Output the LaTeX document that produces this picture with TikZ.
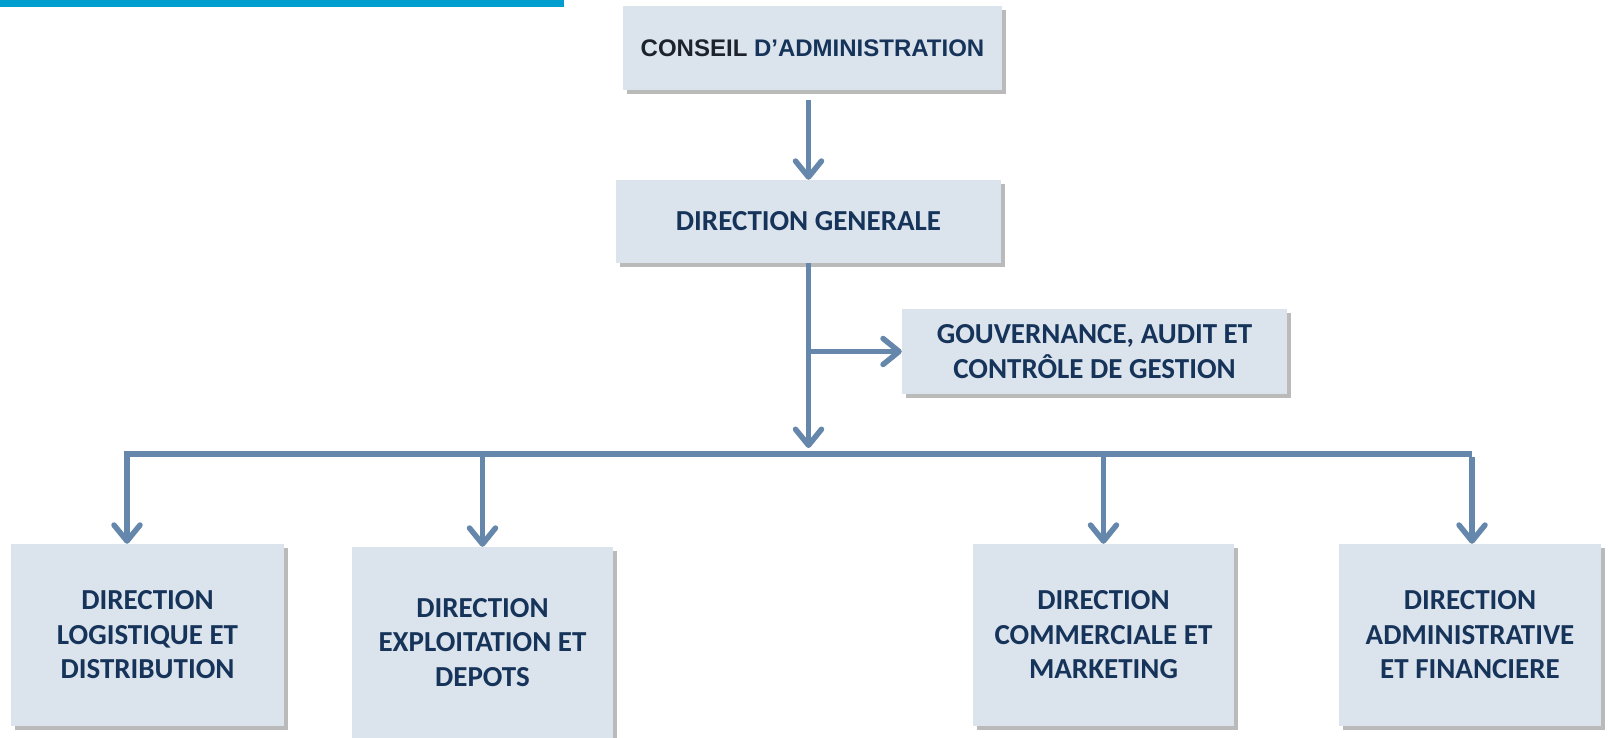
\documentclass[tikz,border=0pt]{standalone}
\usepackage{fontspec}
\setmainfont{Carlito}
\newfontfamily\arialfont{Liberation Sans}
\usepackage{xcolor}
\usetikzlibrary{positioning,arrows.meta,shadows}

\definecolor{topbar}{RGB}{0,157,207}
\definecolor{boxfill}{RGB}{219,227,236}
\definecolor{boxtext}{RGB}{22,52,90}
\definecolor{linkcol}{RGB}{101,135,171}
\definecolor{darktext}{RGB}{30,34,44}

\tikzstyle{unit} = [rectangle, fill=boxfill, text=boxtext, align=center, inner sep=0pt,
  font=\bfseries\fontsize{29}{34.5}\selectfont,
  drop shadow={shadow xshift=4pt, shadow yshift=-4pt, fill=black!60, opacity=0.45}]
\tikzstyle{link} = [line width=5.5pt, linkcol]
\tikzstyle{arrow} = [link, -{Straight Barb[length=16pt,width=26pt,round]}]

\begin{document}
\begin{tikzpicture}[x=1pt, y=-1pt,
    wide/.style={unit, minimum width=385pt, minimum height=84pt},
    tall/.style={unit, minimum width=262pt, minimum height=182pt}]
  \useasboundingbox (0,0) rectangle (1608,737);
  \fill[topbar] (0,0) rectangle (564,7);

  % top of the chart
  \node[wide, minimum width=379pt, font=\arialfont\bfseries\fontsize{24}{28}\selectfont]
    (ca) at (812.5,48) {\raisebox{-5pt}{\textcolor{darktext}{CONSEIL} D’ADMINISTRATION}};
  \node[wide, minimum height=83pt] (dg) at (808.5,221.5) {DIRECTION GENERALE};
  \node[wide, minimum height=85pt] (gov) at (1094.5,351.5) {GOUVERNANCE, AUDIT ET\\CONTRÔLE DE GESTION};

  % directions
  \node[tall, minimum width=273pt] (log) at (147.5,635) {DIRECTION\\LOGISTIQUE ET\\DISTRIBUTION};
  \node[tall, minimum width=261pt, minimum height=191pt] (exp) at (482.5,642.5) {DIRECTION\\EXPLOITATION ET\\DEPOTS};
  \node[tall, minimum width=261pt] (com) at (1103.5,635) {DIRECTION\\COMMERCIALE ET\\MARKETING};
  \node[tall] (adm) at (1470,635) {DIRECTION\\ADMINISTRATIVE\\ET FINANCIERE};

  \coordinate (caout) at ([yshift=-10pt]ca.south);
  \coordinate (busL) at (127,454);
  \coordinate (busR) at (1472,454);

  \draw[arrow] (caout -| dg.north) -- (dg.north);
  \draw[arrow] (dg.south) -- ([yshift=6pt]dg.south |- busL);
  \draw[arrow] (dg.south |- gov.west) -- (gov.west);

  \draw[arrow] (busR) -- (busL) -- (busL |- log.north);
  \draw[arrow] ([yshift=-3pt]exp.north |- busL) -- (exp.north);
  \draw[arrow] ([yshift=-3pt]com.north |- busL) -- (com.north);
  \draw[arrow] ([yshift=-3pt]busR) -- (busR |- adm.north);
\end{tikzpicture}
\end{document}
